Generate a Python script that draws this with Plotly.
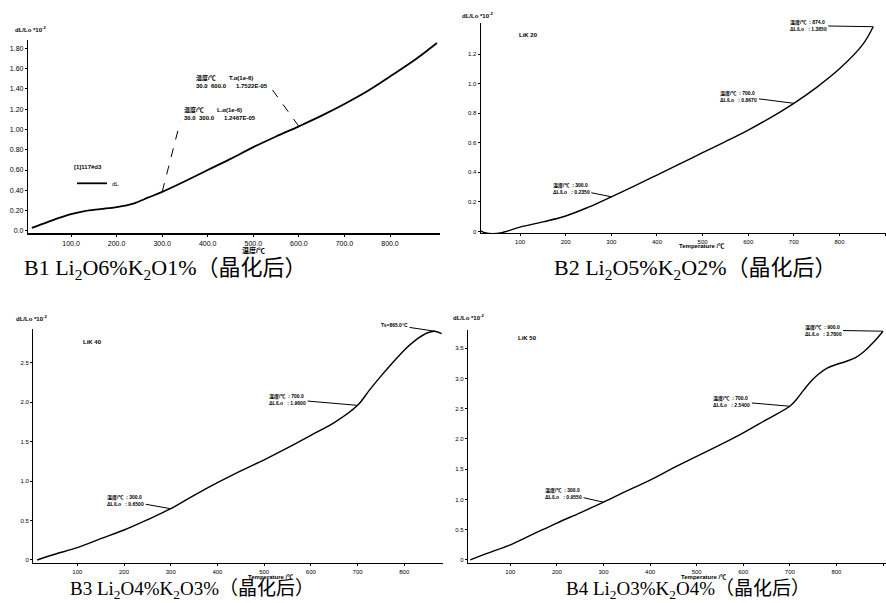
import plotly.graph_objects as go

# ---------------- data ----------------
B1_T = [14, 50, 100, 130, 164, 200, 237, 270, 300, 350, 400, 450, 500, 550, 600, 650, 700, 750, 800, 850, 880, 903]
B1_dL = [0.03, 0.09, 0.165, 0.195, 0.215, 0.235, 0.27, 0.33, 0.385, 0.49, 0.60, 0.71, 0.825, 0.93, 1.03, 1.135, 1.25, 1.375, 1.52, 1.67, 1.77, 1.85]

B2_T = [14, 25, 40, 60, 100, 150, 200, 250, 300, 350, 400, 450, 500, 550, 600, 650, 700, 750, 800, 850, 874]
B2_dL = [0.005, -0.01, -0.015, -0.008, 0.03, 0.065, 0.105, 0.165, 0.235, 0.307, 0.382, 0.457, 0.533, 0.608, 0.686, 0.772, 0.867, 0.975, 1.10, 1.26, 1.385]

B3_T = [14, 50, 100, 150, 200, 250, 300, 350, 400, 450, 500, 550, 600, 650, 700, 725, 750, 775, 800, 825, 850, 865, 880]
B3_dL = [0.0, 0.07, 0.156, 0.27, 0.38, 0.51, 0.65, 0.82, 0.98, 1.13, 1.27, 1.42, 1.58, 1.74, 1.96, 2.15, 2.33, 2.50, 2.66, 2.79, 2.88, 2.90, 2.87]

B4_T = [14, 50, 100, 150, 200, 250, 300, 350, 400, 450, 500, 550, 600, 650, 700, 715, 730, 745, 760, 780, 800, 820, 840, 860, 880, 900]
B4_dL = [0.0, 0.11, 0.25, 0.43, 0.61, 0.78, 0.955, 1.14, 1.32, 1.52, 1.71, 1.90, 2.10, 2.32, 2.54, 2.66, 2.81, 2.95, 3.06, 3.17, 3.23, 3.28, 3.34, 3.45, 3.60, 3.78]

B1_xticks = [100, 200, 300, 400, 500, 600, 700, 800]
B1_xlabels = ["100.0", "200.0", "300.0", "400.0", "500.0", "600.0", "700.0", "800.0"]
B1_yticks = [0, 0.2, 0.4, 0.6, 0.8, 1.0, 1.2, 1.4, 1.6, 1.8]
B1_ylabels = ["0.0", "0.20", "0.40", "0.60", "0.80", "1.00", "1.20", "1.40", "1.60", "1.80"]
B2_yticks = [0, 0.2, 0.4, 0.6, 0.8, 1.0, 1.2]
B2_ylabels = ["0", "0.2", "0.4", "0.6", "0.8", "1.0", "1.2"]
B34_xticks = [100, 200, 300, 400, 500, 600, 700, 800, 900]
B3_yticks = [0, 0.5, 1.0, 1.5, 2.0, 2.5]
B4_yticks = [0, 0.5, 1.0, 1.5, 2.0, 2.5, 3.0, 3.5]
B34_ylabels = ["0", "0.5", "1.0", "1.5", "2.0", "2.5", "3.0", "3.5"]

captions = ["B1 Li<sub>2</sub>O6%K<sub>2</sub>O1%（晶化后）",
            "B2 Li<sub>2</sub>O5%K<sub>2</sub>O2%（晶化后）",
            "B3 Li<sub>2</sub>O4%K<sub>2</sub>O3%（晶化后）",
            "B4 Li<sub>2</sub>O3%K<sub>2</sub>O4%（晶化后）"]
sample_tags = ["LiK 20", "LiK 40", "LiK 50"]

W, H = 886, 603
def fx(px):
    return px / W
def fy(py):
    return 1 - py / H

fig = go.Figure()
fig.add_trace(go.Scatter(x=B1_T, y=B1_dL, mode="lines", line=dict(color="black", width=1.8, shape="spline"),
                         name="dL", showlegend=True, xaxis="x", yaxis="y"))
fig.add_trace(go.Scatter(x=B2_T, y=B2_dL, mode="lines", line=dict(color="black", width=1.4, shape="spline"),
                         showlegend=False, xaxis="x2", yaxis="y2"))
fig.add_trace(go.Scatter(x=B3_T, y=B3_dL, mode="lines", line=dict(color="black", width=1.4, shape="spline"),
                         showlegend=False, xaxis="x3", yaxis="y3"))
fig.add_trace(go.Scatter(x=B4_T, y=B4_dL, mode="lines", line=dict(color="black", width=1.4, shape="spline"),
                         showlegend=False, xaxis="x4", yaxis="y4"))

tickfont = dict(family="Liberation Sans", size=6, color="black")
def ax_common(**kw):
    d = dict(showline=True, linecolor="black", linewidth=1.3, ticks="outside", ticklen=2,
             tickcolor="black", showgrid=False, zeroline=False, tickfont=tickfont)
    d.update(kw)
    return d

fig.update_layout(
    width=W, height=H, margin=dict(l=0, r=0, t=0, b=0),
    paper_bgcolor="white", plot_bgcolor="white",
    xaxis=ax_common(domain=[fx(28), fx(440)], range=[5.6, 909.7], tickvals=B1_xticks, ticktext=B1_xlabels,
                    linewidth=2.2, anchor="y", tickfont=dict(family="Liberation Sans", size=7, color="black")),
    yaxis=ax_common(domain=[fy(233), fy(40)], range=[-0.02, 1.88], tickvals=B1_yticks, ticktext=B1_ylabels,
                    anchor="x", tickfont=dict(family="Liberation Sans", size=7, color="black")),
    xaxis2=ax_common(domain=[fx(480.7), 1.0], range=[13.7, 902], tickvals=B34_xticks, anchor="y2"),
    yaxis2=ax_common(domain=[fy(233.3), fy(23)], range=[-0.012, 1.41], tickvals=B2_yticks, ticktext=B2_ylabels, anchor="x2"),
    xaxis3=ax_common(domain=[fx(33.3), fx(443)], range=[5.8, 882.9], tickvals=B34_xticks, anchor="y3"),
    yaxis3=ax_common(domain=[fy(563.3), fy(329.3)], range=[-0.042, 2.924], tickvals=B3_yticks,
                     ticktext=B34_ylabels[:6], anchor="x3"),
    xaxis4=ax_common(domain=[fx(468), 1.0], range=[9.2, 906.4], tickvals=B34_xticks, anchor="y4"),
    yaxis4=ax_common(domain=[fy(563.3), fy(330)], range=[-0.055, 3.80], tickvals=B4_yticks,
                     ticktext=B34_ylabels, anchor="x4"),
    legend=dict(x=fx(72), y=fy(161), xanchor="left", yanchor="top", bgcolor="rgba(0,0,0,0)",
                font=dict(family="Liberation Sans", size=6, color="black"),
                title=dict(text="<b>[1]117#d3</b>", font=dict(family="Liberation Sans", size=6, color="black")),
                itemwidth=30, tracegroupgap=0),
    showlegend=True,
)

ann = []
small = dict(family="Liberation Sans, Noto Sans CJK SC", size=5, color="black")
# y-axis titles and x-axis titles
for (px, py, t) in [(30, 29, "dL/Lo *10<sup>-2</sup>"), (478, 15, "dL/Lo *10<sup>-2</sup>"),
                    (31, 318, "dL/Lo *10<sup>-2</sup>"), (468, 317, "dL/Lo *10<sup>-2</sup>")]:
    ann.append(dict(x=fx(px), y=fy(py), xref="paper", yref="paper", xanchor="center", yanchor="middle",
                    text="<b>" + t + "</b>", showarrow=False,
                    font=dict(family="Liberation Sans", size=6, color="black")))
for (px, py, t, s) in [(253, 250, "温度/℃", 7), (701, 246, "Temperature /℃", 6),
                       (270, 577, "Temperature /℃", 6), (703, 577, "Temperature /℃", 6)]:
    ann.append(dict(x=fx(px), y=fy(py), xref="paper", yref="paper", xanchor="center", yanchor="middle",
                    text="<b>" + t + "</b>", showarrow=False,
                    font=dict(family="Liberation Sans, Noto Sans CJK SC", size=s, color="black")))
# sample tags
for (px, py, t) in [(528, 35, sample_tags[0]), (92, 342, sample_tags[1]), (527, 338, sample_tags[2])]:
    ann.append(dict(x=fx(px), y=fy(py), xref="paper", yref="paper", xanchor="center", yanchor="middle",
                    text="<b>" + t + "</b>", showarrow=False,
                    font=dict(family="Liberation Sans", size=6, color="black")))

# panel 1 callouts with dashed leader lines
shapes = []
i300 = B1_T.index(300)
i600 = B1_T.index(600)
shapes.append(dict(type="line", xref="x", yref="y", xsizemode="pixel", ysizemode="pixel",
                   xanchor=B1_T[i300], yanchor=B1_dL[i300], x0=0, y0=0, x1=18, y1=70,
                   line=dict(color="black", width=1, dash="dash")))
shapes.append(dict(type="line", xref="x", yref="y", xsizemode="pixel", ysizemode="pixel",
                   xanchor=B1_T[i600], yanchor=B1_dL[i600], x0=0, y0=0, x1=-29, y1=40,
                   line=dict(color="black", width=1, dash="dash")))
ann.append(dict(x=B1_T[i300], y=B1_dL[i300], xref="x", yref="y", xshift=58, yshift=78, showarrow=False,
                xanchor="center", yanchor="middle",
                text="<b>温度/℃        L.α(1e-6)<br>30.0  300.0      1.2467E-05</b>", align="left",
                font=dict(family="Liberation Sans, Noto Sans CJK SC", size=6, color="black")))
ann.append(dict(x=B1_T[i600], y=B1_dL[i600], xref="x", yref="y", xshift=-67, yshift=45, showarrow=False,
                xanchor="center", yanchor="middle",
                text="<b>温度/℃        T.α(1e-6)<br>30.0  600.0      1.7522E-05</b>", align="left",
                font=dict(family="Liberation Sans, Noto Sans CJK SC", size=6, color="black")))

# callouts for panels 2-4 (arrow tip on the curve)
def callout(xa, ya, T, D, t, ax, ay, txt):
    i = T.index(t)
    return dict(x=T[i], y=D[i], xref=xa, yref=ya, ax=ax, ay=ay, showarrow=True, arrowhead=0,
                arrowwidth=1, arrowcolor="black", text="<b>" + txt + "</b>", align="left", font=small)

two = "温度/℃  : {:.1f}<br>ΔL/Lo   : {:.4f}"
ann.append(callout("x2", "y2", B2_T, B2_dL, 300, -40, -8, two.format(300.0, 0.2350)))
ann.append(callout("x2", "y2", B2_T, B2_dL, 700, -55, -7, two.format(700.0, 0.8670)))
ann.append(callout("x2", "y2", B2_T, B2_dL, 874, -65, -1, two.format(874.0, 1.3850)))
ann.append(callout("x3", "y3", B3_T, B3_dL, 300, -45, -8, two.format(300.0, 0.6500)))
ann.append(callout("x3", "y3", B3_T, B3_dL, 700, -70, -6, two.format(700.0, 1.9600)))
ann.append(callout("x3", "y3", B3_T, B3_dL, 865, -40, -6, "Ts=865.0°C"))
ann.append(callout("x4", "y4", B4_T, B4_dL, 300, -40, -9, two.format(300.0, 0.9550)))
ann.append(callout("x4", "y4", B4_T, B4_dL, 700, -58, -5, two.format(700.0, 2.5400)))
ann.append(callout("x4", "y4", B4_T, B4_dL, 900, -60, -1, two.format(900.0, 3.7800)))

# captions
capfont = dict(family="Liberation Serif, Noto Sans CJK SC", size=22, color="black")
capfont_b = dict(family="Liberation Serif, Noto Sans CJK SC", size=19, color="black")
for (px, py, t, f) in [(165, 269, captions[0], capfont), (695, 269, captions[1], capfont),
                       (192, 590, captions[2], capfont_b), (688, 590, captions[3], capfont_b)]:
    ann.append(dict(x=fx(px), y=fy(py), xref="paper", yref="paper", xanchor="center", yanchor="middle",
                    text=t, showarrow=False, font=f))

fig.update_layout(annotations=ann, shapes=shapes)
fig.write_html("out.html")
